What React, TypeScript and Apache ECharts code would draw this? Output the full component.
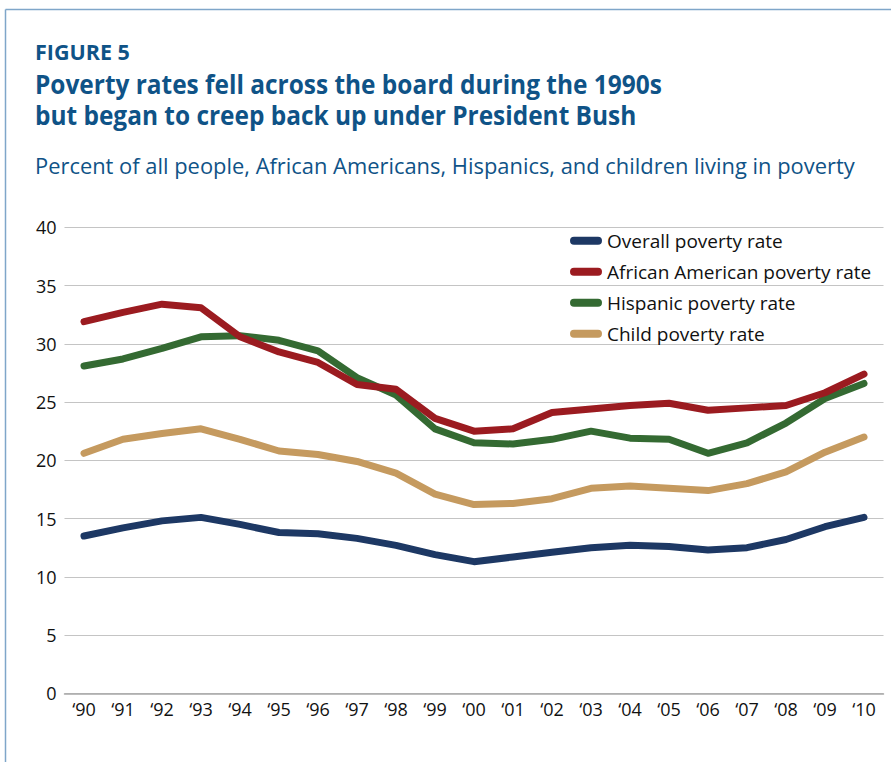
import React, { useEffect, useRef } from "react";
import * as echarts from "echarts";

const years = ["‘90", "‘91", "‘92", "‘93", "‘94", "‘95", "‘96", "‘97", "‘98", "‘99", "‘00", "‘01", "‘02", "‘03", "‘04", "‘05", "‘06", "‘07", "‘08", "‘09", "‘10"];
const overall = [13.5, 14.2, 14.8, 15.1, 14.5, 13.8, 13.7, 13.3, 12.7, 11.9, 11.3, 11.7, 12.1, 12.5, 12.7, 12.6, 12.3, 12.5, 13.2, 14.3, 15.1];
const africanAmerican = [31.9, 32.7, 33.4, 33.1, 30.6, 29.3, 28.4, 26.5, 26.1, 23.6, 22.5, 22.7, 24.1, 24.4, 24.7, 24.9, 24.3, 24.5, 24.7, 25.8, 27.4];
const hispanic = [28.1, 28.7, 29.6, 30.6, 30.7, 30.3, 29.4, 27.1, 25.6, 22.7, 21.5, 21.4, 21.8, 22.5, 21.9, 21.8, 20.6, 21.5, 23.2, 25.3, 26.6];
const child = [20.6, 21.8, 22.3, 22.7, 21.8, 20.8, 20.5, 19.9, 18.9, 17.1, 16.2, 16.3, 16.7, 17.6, 17.8, 17.6, 17.4, 18.0, 19.0, 20.7, 22.0];

const seriesNames = ["Overall poverty rate", "African American poverty rate", "Hispanic poverty rate", "Child poverty rate"];
const seriesColors = ["#1d3864", "#9b1b20", "#346a32", "#c59a5f"];
const seriesData = [overall, africanAmerican, hispanic, child];

const FONT = "'Open Sans', 'Noto Sans', sans-serif";
const TITLE_COLOR = "#0f5387";

export default function App() {
  const ref = useRef<HTMLDivElement>(null);
  useEffect(() => {
    if (!ref.current) return;
    const chart = echarts.init(ref.current, null, { renderer: "svg" });
    chart.setOption({
      animation: false,
      backgroundColor: "#ffffff",
      textStyle: { fontFamily: FONT },
      graphic: [
        { type: "line", shape: { x1: 5.5, y1: 9.5, x2: 891, y2: 9.5 }, style: { stroke: "#7fa6c9", lineWidth: 1.5 } },
        { type: "line", shape: { x1: 5.5, y1: 9.5, x2: 5.5, y2: 762 }, style: { stroke: "#7fa6c9", lineWidth: 1.5 } },
        { type: "text", x: 35, y: 51.5, style: { text: "FIGURE 5", fontFamily: FONT, fontSize: 21.5, fontWeight: "bold", fill: TITLE_COLOR, verticalAlign: "middle" } },
        { type: "text", x: 35, y: 84, scaleX: 0.94, style: { text: "Poverty rates fell across the board during the 1990s", fontFamily: FONT, fontSize: 26, fontWeight: "bold", fill: TITLE_COLOR, verticalAlign: "middle" } },
        { type: "text", x: 35, y: 115, scaleX: 0.94, style: { text: "but began to creep back up under President Bush", fontFamily: FONT, fontSize: 26, fontWeight: "bold", fill: TITLE_COLOR, verticalAlign: "middle" } },
        { type: "text", x: 35, y: 165.5, style: { text: "Percent of all people, African Americans, Hispanics, and children living in poverty", fontFamily: FONT, fontSize: 21.9, fill: TITLE_COLOR, verticalAlign: "middle" } },
      ],
      legend: {
        orient: "vertical",
        left: 570,
        top: 230.7,
        padding: 0,
        itemWidth: 32,
        itemHeight: 8,
        itemGap: 11,
        icon: "path://M4,0 H28 A4,4 0 0 1 28,8 H4 A4,4 0 0 1 4,0 Z",
        textStyle: { fontFamily: FONT, fontSize: 19, color: "#111111", lineHeight: 20 },
        data: seriesNames,
      },
      grid: { left: 64.5, right: 7.5, top: 227.3, bottom: 68.7, containLabel: false },
      xAxis: {
        type: "category",
        data: years,
        boundaryGap: true,
        axisLine: { show: true, lineStyle: { color: "#a8a8a8", width: 1.5 } },
        axisTick: { show: false },
        axisLabel: { color: "#111111", fontFamily: FONT, fontSize: 18, margin: 7, interval: 0 },
      },
      yAxis: {
        type: "value",
        min: 0,
        max: 40,
        interval: 5,
        axisLine: { show: false },
        axisTick: { show: false },
        splitLine: { lineStyle: { color: "#c4c4c4", width: 1.2 } },
        axisLabel: { color: "#111111", fontFamily: FONT, fontSize: 18, margin: 8 },
      },
      series: seriesNames.map((name, i) => ({
        name,
        type: "line",
        data: seriesData[i],
        symbol: "none",
        color: seriesColors[i],
        lineStyle: { color: seriesColors[i], width: 7, cap: "round", join: "round" },
        z: 10 - i,
      })),
    });
    return () => chart.dispose();
  }, []);
  return <div ref={ref} style={{ width: 891, height: 762, position: "absolute", left: 0, top: 0 }} />;
}
